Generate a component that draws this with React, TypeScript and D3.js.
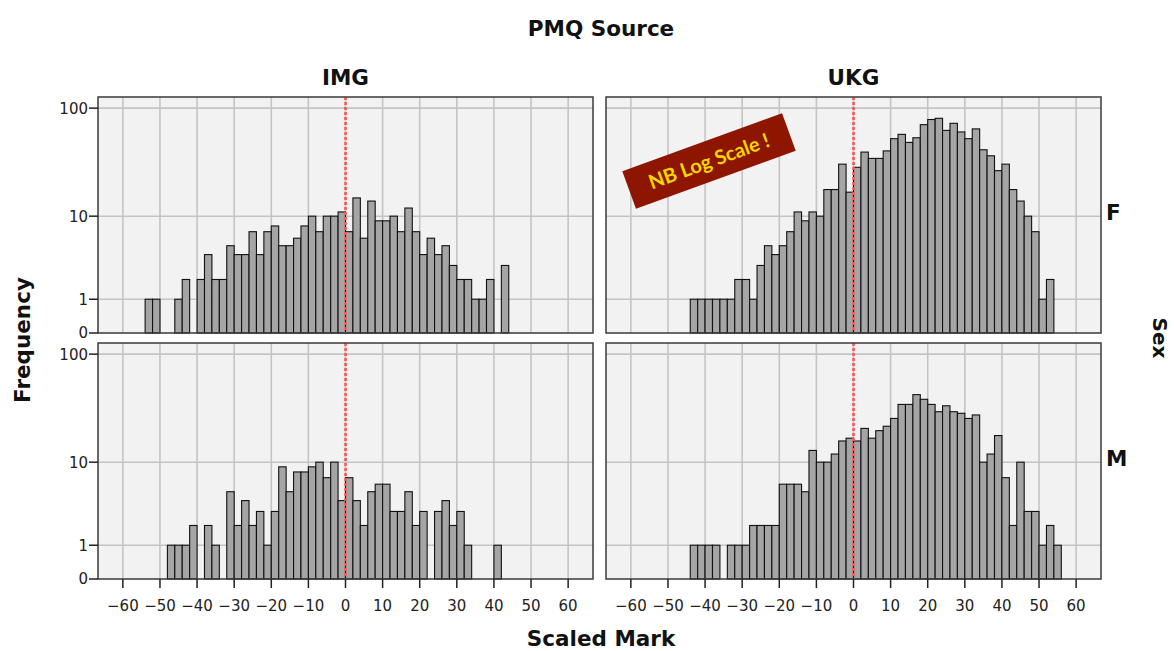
import React from "react";
import * as d3 from "d3";

// Bin left edges (width 2) and counts per panel
const BIN_WIDTH = 2;
const xTicks = [-60, -50, -40, -30, -20, -10, 0, 10, 20, 30, 40, 50, 60];
const yTicks = [0, 1, 10, 100];
const sourceLabels = ["IMG", "UKG"];
const sexLabels = ["F", "M"];

const imgFemaleStart = -54;
const imgFemale = [1, 1, 0, 0, 1, 2, 0, 2, 4, 2, 2, 5, 4, 4, 7, 4, 7, 8, 5, 5, 6, 8, 10, 7, 10, 10, 11, 7, 15, 6, 14, 9, 9, 10, 7, 12, 7, 4, 6, 4, 5, 3, 2, 2, 1, 1, 2, 0, 3];

const ukgFemaleStart = -44;
const ukgFemale = [1, 1, 1, 1, 1, 1, 2, 2, 1, 3, 5, 4, 5, 7, 11, 9, 11, 10, 18, 18, 31, 17, 29, 40, 35, 35, 41, 53, 58, 49, 54, 71, 79, 81, 63, 73, 61, 53, 65, 42, 37, 27, 31, 18, 14, 10, 7, 1, 2];

const imgMaleStart = -48;
const imgMale = [1, 1, 1, 2, 0, 2, 1, 0, 5, 2, 4, 2, 3, 1, 3, 9, 5, 8, 8, 9, 10, 7, 10, 4, 7, 4, 2, 5, 6, 6, 3, 3, 5, 2, 3, 0, 3, 4, 2, 3, 1, 0, 0, 0, 1];

const ukgMaleStart = -44;
const ukgMale = [1, 1, 1, 1, 0, 1, 1, 1, 2, 2, 2, 2, 6, 6, 6, 5, 13, 10, 10, 12, 16, 17, 16, 21, 17, 20, 22, 26, 35, 35, 43, 39, 35, 30, 34, 30, 29, 26, 28, 10, 12, 18, 7, 2, 10, 3, 3, 1, 2, 1];

const panelData = [
  [ { start: imgFemaleStart, counts: imgFemale }, { start: ukgFemaleStart, counts: ukgFemale } ],
  [ { start: imgMaleStart, counts: imgMale }, { start: ukgMaleStart, counts: ukgMale } ],
];

const W = 1174;
const H = 651;
const panelW = 495;
const panelH = 236;
const colX = [98, 606];
const rowY = [97, 343];
const xDomain: [number, number] = [-66.7, 66.7];
const yMax = 126;

const tickFont = "'DejaVu Sans', sans-serif";
const titleFont = "'DejaVu Sans', sans-serif";

function Panel({ x0, y0, series, showY, showX }: any) {
  const x = d3.scaleLinear().domain(xDomain).range([x0, x0 + panelW]);
  const y = d3.scaleSymlog().constant(1).domain([0, yMax]).range([y0 + panelH, y0]);
  const bins = series.counts
    .map((c: number, i: number) => ({ lo: series.start + i * BIN_WIDTH, c }))
    .filter((b: any) => b.c > 0);
  return (
    <g>
      <rect x={x0} y={y0} width={panelW} height={panelH} fill="#f2f2f2" />
      {xTicks.map((t) => (
        <line key={"gx" + t} x1={x(t)} x2={x(t)} y1={y0} y2={y0 + panelH} stroke="#c4c4c4" strokeWidth={1.6} />
      ))}
      {yTicks.filter((t) => t > 0).map((t) => (
        <line key={"gy" + t} x1={x0} x2={x0 + panelW} y1={y(t)} y2={y(t)} stroke="#c4c4c4" strokeWidth={1.6} />
      ))}
      {bins.map((b: any) => (
        <rect
          key={"b" + b.lo}
          x={x(b.lo)}
          y={y(b.c)}
          width={x(b.lo + BIN_WIDTH) - x(b.lo)}
          height={y(0) - y(b.c)}
          fill="#a5a5a5"
          stroke="#111"
          strokeWidth={1.1}
        />
      ))}
      <line x1={x(0)} x2={x(0)} y1={y0} y2={y0 + panelH} stroke="#ff5555" strokeWidth={2.6} strokeDasharray="3,2" />
      <rect x={x0} y={y0} width={panelW} height={panelH} fill="none" stroke="#3a3a3a" strokeWidth={1.5} />
      {showY &&
        yTicks.map((t) => (
          <g key={"yt" + t}>
            <line x1={x0 - 9} x2={x0} y1={y(t)} y2={y(t)} stroke="#222" strokeWidth={1.5} />
            <text x={x0 - 10} y={y(t)} dy="0.36em" textAnchor="end" fontFamily={tickFont} fontSize={15} fill="#222">
              {t}
            </text>
          </g>
        ))}
      {showX &&
        xTicks.map((t) => (
          <g key={"xt" + t}>
            <line x1={x(t)} x2={x(t)} y1={y0 + panelH} y2={y0 + panelH + 9} stroke="#222" strokeWidth={1.5} />
            <text x={x(t)} y={y0 + panelH + 32} textAnchor="middle" fontFamily={tickFont} fontSize={15} fill="#222">
              {t < 0 ? "\u2212" + Math.abs(t) : String(t)}
            </text>
          </g>
        ))}
    </g>
  );
}

export default function App() {
  return (
    <svg width={W} height={H} style={{ position: "absolute", left: 0, top: 0, background: "#fff" }}>
      <text x={601} y={36} textAnchor="middle" fontFamily={titleFont} fontWeight="bold" fontSize={21.5} fill="#111">
        PMQ Source
      </text>
      {sourceLabels.map((s, i) => (
        <text key={s} x={colX[i] + panelW / 2} y={85} textAnchor="middle" fontFamily={titleFont} fontWeight="bold" fontSize={21.5} fill="#111">
          {s}
        </text>
      ))}
      {sexLabels.map((s, j) => (
        <text key={s} x={1106} y={rowY[j] + panelH / 2 - 3} dy="0.36em" fontFamily={titleFont} fontWeight="bold" fontSize={21.5} fill="#111">
          {s}
        </text>
      ))}
      <text transform="translate(1160,338) rotate(90)" textAnchor="middle" dy="0.36em" fontFamily={titleFont} fontWeight="bold" fontSize={20} fill="#111">
        Sex
      </text>
      <text transform="translate(22,340) rotate(-90)" textAnchor="middle" dy="0.36em" fontFamily={titleFont} fontWeight="bold" fontSize={21.5} fill="#111">
        Frequency
      </text>
      <text x={601} y={646} textAnchor="middle" fontFamily={titleFont} fontWeight="bold" fontSize={21.5} fill="#111">
        Scaled Mark
      </text>
      {panelData.map((row, j) =>
        row.map((series, i) => (
          <Panel key={`${j}-${i}`} x0={colX[i]} y0={rowY[j]} series={series} showY={i === 0} showX={j === 1} />
        ))
      )}
      <g transform="translate(709,161) rotate(-20)">
        <rect x={-85} y={-20} width={170} height={40} fill="#8e1500" />
        <text x={0} y={0} dy="0.36em" textAnchor="middle" fontFamily="Lato, 'Open Sans', sans-serif" fontWeight="bold" fontSize={20} fill="#f2d600">
          NB Log Scale !
        </text>
      </g>
    </svg>
  );
}
